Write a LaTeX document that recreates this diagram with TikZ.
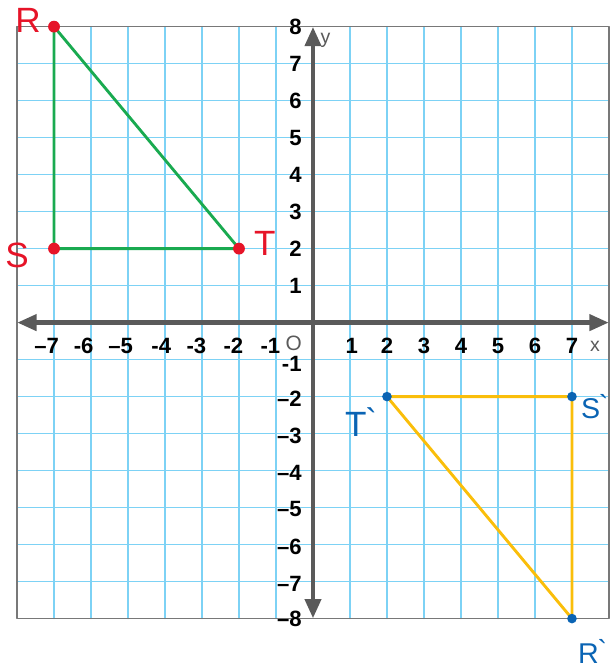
\documentclass[tikz,border=0pt]{standalone}
\usepackage{fontspec}
\setmainfont{Liberation Sans}
\usetikzlibrary{arrows.meta}
\definecolor{gridblue}{RGB}{125,210,245}
\definecolor{framegray}{RGB}{120,120,120}
\definecolor{axisgray}{RGB}{90,90,90}
\definecolor{trigreen}{RGB}{25,170,80}
\definecolor{triyellow}{RGB}{250,190,10}
\definecolor{ptred}{RGB}{230,20,40}
\definecolor{ptblue}{RGB}{10,100,180}
\begin{document}
\begin{tikzpicture}
% Coordinate plane with triangle RST and its image R'S'T'
\def\cellsz{1cm}
\providecommand{\planeGridColor}{gridblue}
\providecommand{\planeFrameColor}{framegray}
\providecommand{\planeGridWidth}{1pt}
\providecommand{\planeAxisWidth}{3.8pt}
\providecommand{\planeEdgeWidth}{2.2pt}
\providecommand{\primemark}{\kern-1pt\raisebox{0.1em}{\textasciigrave}}
\tikzset{
  ticklab/.style={font=\fontsize{17}{17}\selectfont\bfseries, text=black, inner sep=0pt},
  axislab/.style={font=\fontsize{15}{15}\selectfont, text=axisgray, inner sep=0pt},
  ptlab/.style={font=\fontsize{27}{27}\selectfont, inner sep=0pt},
}
\begin{scope}[x=\cellsz, y=\cellsz, line cap=round, line join=round]
  \useasboundingbox (-8.46,-9.39) rectangle (8.03,8.72);
  % Vertical lines
  \begin{scope}[draw=\planeGridColor, line width=\planeGridWidth]
    \draw (-7,-8) -- (-7,8);
    \draw (-6,-8) -- (-6,8);
    \draw (-5,-8) -- (-5,8);
    \draw (-4,-8) -- (-4,8);
    \draw (-3,-8) -- (-3,8);
    \draw (-2,-8) -- (-2,8);
    \draw (-1,-8) -- (-1,8);
    \draw (1,-8) -- (1,8);
    \draw (2,-8) -- (2,8);
    \draw (3,-8) -- (3,8);
    \draw (4,-8) -- (4,8);
    \draw (5,-8) -- (5,8);
    \draw (6,-8) -- (6,8);
    \draw (7,-8) -- (7,8);
  \end{scope}
  % Horizontal lines
  \begin{scope}[draw=\planeGridColor, line width=\planeGridWidth]
    \draw (-8,7) -- (8,7);
    \draw (-8,6) -- (8,6);
    \draw (-8,5) -- (8,5);
    \draw (-8,4) -- (8,4);
    \draw (-8,3) -- (8,3);
    \draw (-8,2) -- (8,2);
    \draw (-8,1) -- (8,1);
    \draw (-8,-1) -- (8,-1);
    \draw (-8,-2) -- (8,-2);
    \draw (-8,-3) -- (8,-3);
    \draw (-8,-4) -- (8,-4);
    \draw (-8,-5) -- (8,-5);
    \draw (-8,-6) -- (8,-6);
    \draw (-8,-7) -- (8,-7);
  \end{scope}
  % Outer frame
  \draw[\planeFrameColor, line width=\planeGridWidth, line cap=butt] (-8,-8) rectangle (8,8);
  % Axes
  \draw[axisgray, line width=\planeAxisWidth, line cap=butt,
    {Triangle[width=12pt,length=15pt]}-{Triangle[width=12pt,length=15pt]}] (-8,0) -- (8,0);
  \draw[axisgray, line width=\planeAxisWidth, line cap=butt,
    {Triangle[width=12pt,length=15pt]}-{Triangle[width=12pt,length=15pt]}] (0,-8) -- (0,8);
  \node[axislab] (xname) at (7.62,-0.64) {x};
  \node[axislab] (yname) at (0.34,7.62) {y};
  \node[axislab, font=\fontsize{16}{16}\selectfont] (orig) at (-0.52,-0.55) {O};
  % x tick labels
  \node[ticklab] (xlabm7) at (-7.2,-0.64) {--7};
  \node[ticklab] (xlabm6) at (-6.2,-0.64) {-6};
  \node[ticklab] (xlabm5) at (-5.2,-0.64) {--5};
  \node[ticklab] (xlabm4) at (-4.1,-0.64) {-4};
  \node[ticklab] (xlabm3) at (-3.15,-0.64) {-3};
  \node[ticklab] (xlabm2) at (-2.15,-0.64) {-2};
  \node[ticklab] (xlabm1) at (-1.15,-0.64) {-1};
  \node[ticklab] (xlab1) at (1.05,-0.64) {1};
  \node[ticklab] (xlab2) at (2,-0.64) {2};
  \node[ticklab] (xlab3) at (3,-0.64) {3};
  \node[ticklab] (xlab4) at (4,-0.64) {4};
  \node[ticklab] (xlab5) at (5,-0.64) {5};
  \node[ticklab] (xlab6) at (6,-0.64) {6};
  \node[ticklab] (xlab7) at (7,-0.64) {7};
  % y tick labels
  \node[ticklab, anchor=east] (ylab8) at (-0.3,8) {8};
  \node[ticklab, anchor=east] (ylab7) at (-0.3,7) {7};
  \node[ticklab, anchor=east] (ylab6) at (-0.3,6) {6};
  \node[ticklab, anchor=east] (ylab5) at (-0.3,5) {5};
  \node[ticklab, anchor=east] (ylab4) at (-0.3,4) {4};
  \node[ticklab, anchor=east] (ylab3) at (-0.3,3) {3};
  \node[ticklab, anchor=east] (ylab2) at (-0.3,2) {2};
  \node[ticklab, anchor=east] (ylab1) at (-0.3,1) {1};
  \node[ticklab, anchor=east] (ylabm1) at (-0.3,-1.12) {-1};
  \node[ticklab, anchor=east] (ylabm2) at (-0.3,-2.05) {--2};
  \node[ticklab, anchor=east] (ylabm3) at (-0.3,-3.05) {--3};
  \node[ticklab, anchor=east] (ylabm4) at (-0.3,-4.05) {--4};
  \node[ticklab, anchor=east] (ylabm5) at (-0.3,-5.05) {--5};
  \node[ticklab, anchor=east] (ylabm6) at (-0.3,-6.05) {--6};
  \node[ticklab, anchor=east] (ylabm7) at (-0.3,-7.05) {--7};
  \node[ticklab, anchor=east] (ylabm8) at (-0.3,-8) {--8};
  % Triangle RST
  \coordinate (R) at (-7,8);
  \coordinate (S) at (-7,2);
  \coordinate (T) at (-2,2);
  \draw[trigreen, line width=\planeEdgeWidth] (R) -- (S) -- (T) -- cycle;
  \begin{scope}[fill=ptred]
    \fill (R) circle (0.16);
    \fill (S) circle (0.16);
    \fill (T) circle (0.16);
  \end{scope}
  \node[ptlab, text=ptred] (Rlab) at (-7.7,8.18) {R};
  \node[ptlab, text=ptred] (Slab) at (-8.0,1.82) {S};
  \node[ptlab, text=ptred] (Tlab) at (-1.3,2.15) {T};
  % Image R'S'T'
  \coordinate (R') at (7,-8);
  \coordinate (S') at (7,-2);
  \coordinate (T') at (2,-2);
  \draw[triyellow, line width=\planeEdgeWidth] (R') -- (S') -- (T') -- cycle;
  \begin{scope}[fill=ptblue]
    \fill (R') circle (0.13);
    \fill (S') circle (0.13);
    \fill (T') circle (0.13);
  \end{scope}
  \node[ptlab, text=ptblue, anchor=west, font=\fontsize{22}{22}\selectfont] (Rplab) at (7.16,-8.9) {R\primemark};
  \node[ptlab, text=ptblue, anchor=west, font=\fontsize{22}{22}\selectfont] (Splab) at (7.24,-2.28) {S\primemark};
  \node[ptlab, text=ptblue] (Tplab) at (1.3,-2.69) {T\primemark};
\end{scope}
\end{tikzpicture}
\end{document}
